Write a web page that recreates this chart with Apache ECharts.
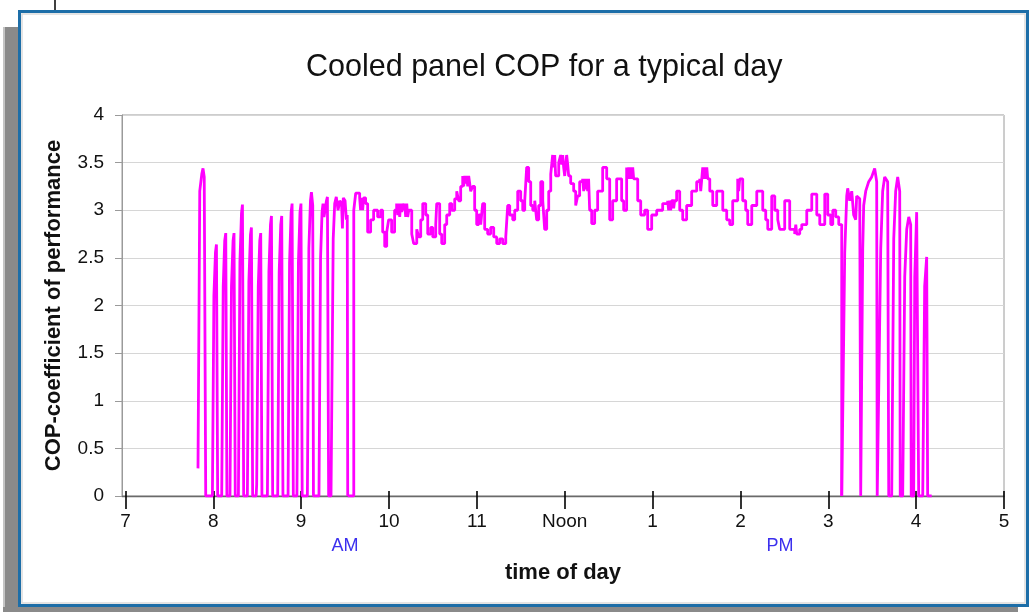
<!DOCTYPE html>
<html>
<head>
<meta charset="utf-8">
<script src="https://cdn.jsdelivr.net/npm/echarts@6/dist/echarts.min.js"></script>
<style>html,body{margin:0;padding:0;background:#fff}#c{width:1034px;height:612px}</style>
</head>
<body>
<div id="c"></div>
<script>
// x values are hours of the day (7 = 7 AM, 13 = 1 PM, 17 = 5 PM)
var xTicks = [7, 8, 9, 10, 11, 12, 13, 14, 15, 16, 17];
var xTickLabels = ['7', '8', '9', '10', '11', 'Noon', '1', '2', '3', '4', '5'];
var periodPos = [9.5, 14.45];
var periodLabels = ['AM', 'PM'];

// morning on/off cycling [hour, COP]
var morningCycles = [
  [7.826,0.29],[7.846,3.2],[7.869,3.38],[7.883,3.44],[7.897,3.35],[7.914,0],
  [7.990,0],[8.007,2.1],[8.025,2.56],[8.036,2.64],[8.050,0],
  [8.096,0],[8.113,2.2],[8.130,2.68],[8.142,2.76],[8.155,0],
  [8.190,0],[8.207,2.2],[8.225,2.68],[8.236,2.76],[8.250,0],
  [8.286,0],[8.303,2.45],[8.321,2.97],[8.332,3.06],[8.346,0],
  [8.388,0],[8.405,2.25],[8.423,2.74],[8.434,2.82],[8.448,0],
  [8.488,0],[8.494,0.12],[8.512,2.2],[8.529,2.68],[8.540,2.76],[8.554,0],
  [8.616,0],[8.633,2.35],[8.651,2.85],[8.662,2.94],[8.676,0],
  [8.733,0],[8.750,2.35],[8.768,2.85],[8.779,2.94],[8.793,0],
  [8.851,0],[8.868,2.45],[8.886,2.98],[8.897,3.07],[8.911,0],
  [8.952,0],[8.969,2.45],[8.987,2.98],[8.998,3.07],[9.012,0],
  [9.071,0],[9.088,2.6],[9.106,3.1],[9.117,3.19],[9.125,3.19],[9.132,3.05],[9.140,0],
  [9.203,0],[9.221,2.5],[9.238,2.98],[9.249,3.07],[9.260,2.93],[9.275,2.93],[9.288,3.1],[9.299,3.14],[9.313,0],
  [9.340,0],[9.365,2.7],[9.382,3.07],[9.400,3.14],[9.420,3.0],[9.440,3.1],[9.460,3.07],[9.470,2.81],[9.480,3.13],[9.500,3.1],[9.515,2.9],[9.525,2.95],[9.530,0]
];

// steady running, stepped readings [hour, COP]
var middayRun = [
  [9.530,0],[9.599,3.0],[9.621,3.18],[9.666,3.13],[9.677,3.0],[9.688,3.13],[9.700,3.0],[9.711,3.13],[9.734,3.07],[9.757,2.77],[9.791,2.9],[9.825,3.0],[9.871,2.93],[9.905,3.0],
  [9.928,2.77],[9.951,2.62],[9.974,2.77],[9.996,2.9],[10.030,2.77],[10.064,3.0],[10.087,3.07],[10.099,2.95],[10.110,3.07],[10.122,2.93],[10.133,3.07],[10.145,2.98],
  [10.156,3.07],[10.168,3.0],[10.179,3.07],[10.190,2.93],[10.202,3.07],[10.213,2.93],[10.225,3.0],
  [10.259,2.75],[10.281,2.65],[10.316,2.8],[10.338,2.72],[10.361,2.9],[10.384,3.07],[10.418,2.95],
  [10.441,2.75],[10.475,2.82],[10.498,2.72],[10.532,2.85],[10.543,3.07],[10.577,2.75],[10.600,2.65],[10.634,2.85],[10.657,2.95],[10.691,3.07],
  [10.714,3.0],[10.748,3.12],[10.771,3.2],[10.793,3.1],[10.816,3.25],[10.839,3.36],[10.850,3.25],[10.862,3.36],[10.873,3.28],[10.884,3.36],[10.896,3.25],[10.907,3.36],[10.919,3.28],
  [10.930,3.2],[10.952,3.25],
  [10.975,3.0],[10.998,2.85],[11.021,2.95],[11.044,2.85],[11.066,3.07],[11.089,2.8],[11.123,2.75],[11.157,2.82],[11.192,2.72],[11.226,2.65],
  [11.260,2.7],[11.294,2.65],[11.329,2.72],[11.351,3.05],[11.374,2.95],[11.408,2.9],[11.431,3.0],[11.465,3.2],[11.499,3.1],[11.522,3.0],
  [11.545,3.1],[11.567,3.45],[11.590,3.3],[11.613,3.05],[11.636,3.0],[11.659,3.1],[11.681,2.9],[11.704,3.05],[11.727,3.3],[11.750,3.1],
  [11.772,2.8],[11.795,3.0],[11.818,3.2],[11.841,3.38],[11.863,3.58],[11.875,3.45],[11.886,3.58],[11.897,3.36],[11.932,3.5],[11.954,3.58],[11.966,3.48],[11.977,3.58],[11.988,3.45],[12.000,3.36],
  [12.022,3.58],[12.034,3.48],[12.045,3.36],[12.068,3.28],[12.102,3.2],[12.125,3.05],[12.147,3.15],[12.170,3.3],[12.204,3.33],[12.216,3.2],[12.227,3.33],[12.238,3.22],[12.250,3.33],[12.261,3.2],[12.272,3.33],
  [12.284,3.0],[12.307,2.86],
  [12.341,3.0],[12.375,3.2],[12.432,3.45],[12.478,3.33],[12.512,2.9],[12.546,3.1],[12.591,3.33],[12.648,3.1],[12.671,3.0],
  [12.705,3.45],[12.717,3.33],[12.728,3.45],[12.740,3.33],[12.751,3.45],[12.762,3.33],[12.774,3.45],[12.785,3.33],
  [12.796,3.33],[12.831,3.1],[12.865,2.95],[12.910,3.0],[12.944,2.8],[12.990,2.95],[13.047,3.0],[13.115,3.07],[13.172,3.1],[13.183,3.0],[13.194,3.1],[13.206,3.0],[13.217,3.1],[13.240,3.02],[13.251,3.1],[13.274,3.2],
  [13.309,3.0],[13.343,2.9],[13.388,3.05],[13.445,3.2],[13.502,3.3],[13.537,3.33],[13.548,3.2],[13.560,3.33],[13.571,3.45],[13.582,3.33],[13.594,3.45],[13.605,3.33],[13.617,3.45],
  [13.628,3.33],[13.651,3.2],[13.685,3.05],
  [13.730,3.2],[13.799,3.0],[13.844,2.9],[13.878,2.85],[13.912,3.1],[13.969,3.33],[13.980,3.2],[13.992,3.33],[14.026,3.1],[14.060,3.0],[14.083,2.85],[14.129,3.05],
  [14.186,3.2],[14.254,3.0],[14.288,2.9],[14.311,2.8],[14.356,3.15],[14.391,3.0],[14.425,2.9],[14.447,2.8],[14.504,3.1],[14.561,2.8],
  [14.618,2.75],[14.630,2.85],[14.641,2.75],[14.675,2.8],[14.698,2.85],[14.755,3.0],[14.812,3.17],[14.869,2.95],[14.903,2.85],[14.960,3.17],[14.994,2.95],[15.028,2.85],
  [15.051,3.0],[15.085,2.93],[15.119,2.85],[15.153,0]
];

// afternoon on/off cycling [hour, COP]
var afternoonCycles = [
  [15.153,0],[15.164,0],[15.187,2.55],[15.210,3.15],[15.221,3.23],[15.244,3.1],[15.267,3.2],[15.289,2.95],[15.312,2.9],[15.323,3.15],[15.358,3.12],[15.369,0],
  [15.380,0],[15.392,2.6],[15.403,3.05],[15.426,3.2],[15.460,3.3],[15.494,3.35],[15.528,3.44],[15.551,3.3],[15.557,0],
  [15.574,0],[15.597,2.6],[15.619,3.2],[15.642,3.35],[15.676,3.3],[15.688,0],
  [15.722,0],[15.745,2.7],[15.767,3.2],[15.790,3.35],[15.813,3.2],[15.819,0],
  [15.847,0],[15.870,2.3],[15.893,2.8],[15.916,2.93],[15.938,2.85],[15.944,0],
  [15.972,0],[15.984,2.3],[16.006,2.98],[16.018,3.0],[16.029,0],
  [16.075,0],[16.097,2.2],[16.120,2.51],[16.131,0],[16.177,0]
];

var FONT = '"Liberation Sans", Arial, Helvetica, sans-serif';
var LINE = '#ff00ff';

var chart = echarts.init(document.getElementById('c'), null, {renderer: 'canvas'});
chart.setOption({
  animation: false,
  backgroundColor: '#ffffff',
  textStyle: {fontFamily: FONT},
  title: {
    text: 'Cooled panel COP for a typical day',
    left: 301, top: 47,
    textStyle: {fontFamily: FONT, fontSize: 30.5, fontWeight: 'normal', color: '#111'}
  },
  graphic: [
    {type: 'rect', z: -100, shape: {x: 3, y: 27, width: 17, height: 585}, style: {fill: '#8a8a8a'}},
    {type: 'rect', z: -100, shape: {x: 3, y: 27, width: 2, height: 585}, style: {fill: '#c4c4c4'}},
    {type: 'rect', z: -100, shape: {x: 3, y: 607, width: 1015, height: 5}, style: {fill: '#8a8a8a'}},
    {type: 'rect', z: -99, shape: {x: 19.5, y: 11.5, width: 1008, height: 594}, style: {fill: '#ffffff', stroke: '#1d6ea8', lineWidth: 3}},
    {type: 'rect', z: -98, shape: {x: 22, y: 14, width: 1003, height: 589}, style: {fill: 'none', stroke: '#dcdcdc', lineWidth: 1.5}},
    {type: 'line', z: -98, shape: {x1: 55, y1: 0, x2: 55, y2: 10}, style: {stroke: '#000', lineWidth: 1.5}}
  ],
  grid: {
    left: 122, right: 30, top: 115, bottom: 116,
    show: true, borderColor: '#9a9a9a', borderWidth: 1, backgroundColor: 'transparent'
  },
  xAxis: [
    {
      type: 'value', min: 6.961, max: 17, position: 'bottom',
      axisLine: {show: true, lineStyle: {color: '#6a6a6a', width: 1.3}},
      axisTick: {show: true, customValues: xTicks, length: 13, lineStyle: {color: '#000', width: 1.6}},
      axisLabel: {
        customValues: xTicks, margin: 16, fontSize: 19, color: '#111', fontFamily: FONT,
        formatter: function (v) { var i = xTicks.indexOf(Math.round(v)); return i >= 0 ? xTickLabels[i] : ''; }
      },
      splitLine: {show: false},
      name: 'time of day', nameLocation: 'middle', nameGap: 66,
      nameTextStyle: {fontFamily: FONT, fontSize: 22, fontWeight: 'bold', color: '#111'}
    },
    {
      type: 'value', min: 6.961, max: 17, position: 'bottom',
      axisLine: {show: false},
      axisTick: {show: true, inside: true, customValues: xTicks, length: 5, lineStyle: {color: '#000', width: 1.6}},
      axisLabel: {show: false},
      splitLine: {show: false}
    },
    {
      type: 'value', min: 6.961, max: 17, position: 'bottom',
      axisLine: {show: false},
      axisTick: {show: false},
      axisLabel: {
        customValues: periodPos, margin: 41, fontSize: 18, color: '#3b2fee', fontFamily: FONT,
        formatter: function (v) { return v < 12 ? periodLabels[0] : periodLabels[1]; }
      },
      splitLine: {show: false}
    }
  ],
  yAxis: {
    type: 'value', min: 0, max: 4, interval: 0.5,
    axisLine: {show: true, lineStyle: {color: '#9a9a9a', width: 1}},
    axisTick: {show: true, length: 7, lineStyle: {color: '#9a9a9a'}},
    axisLabel: {margin: 18, fontSize: 19, color: '#111', fontFamily: FONT},
    splitLine: {show: true, lineStyle: {color: '#d6d6d6', width: 1}},
    name: 'COP-coefficient of performance', nameLocation: 'middle', nameGap: 57,
    nameTextStyle: {fontFamily: FONT, fontSize: 22, fontWeight: 'bold', color: '#111'}
  },
  series: [
    {type: 'line', xAxisIndex: 0, data: morningCycles, symbol: 'none', lineStyle: {color: LINE, width: 2.8}, z: 3},
    {type: 'line', xAxisIndex: 0, data: middayRun, step: 'end', symbol: 'none', lineStyle: {color: LINE, width: 2.8}, z: 3},
    {type: 'line', xAxisIndex: 0, data: afternoonCycles, symbol: 'none', lineStyle: {color: LINE, width: 2.8}, z: 3}
  ]
});
</script>
</body>
</html>
